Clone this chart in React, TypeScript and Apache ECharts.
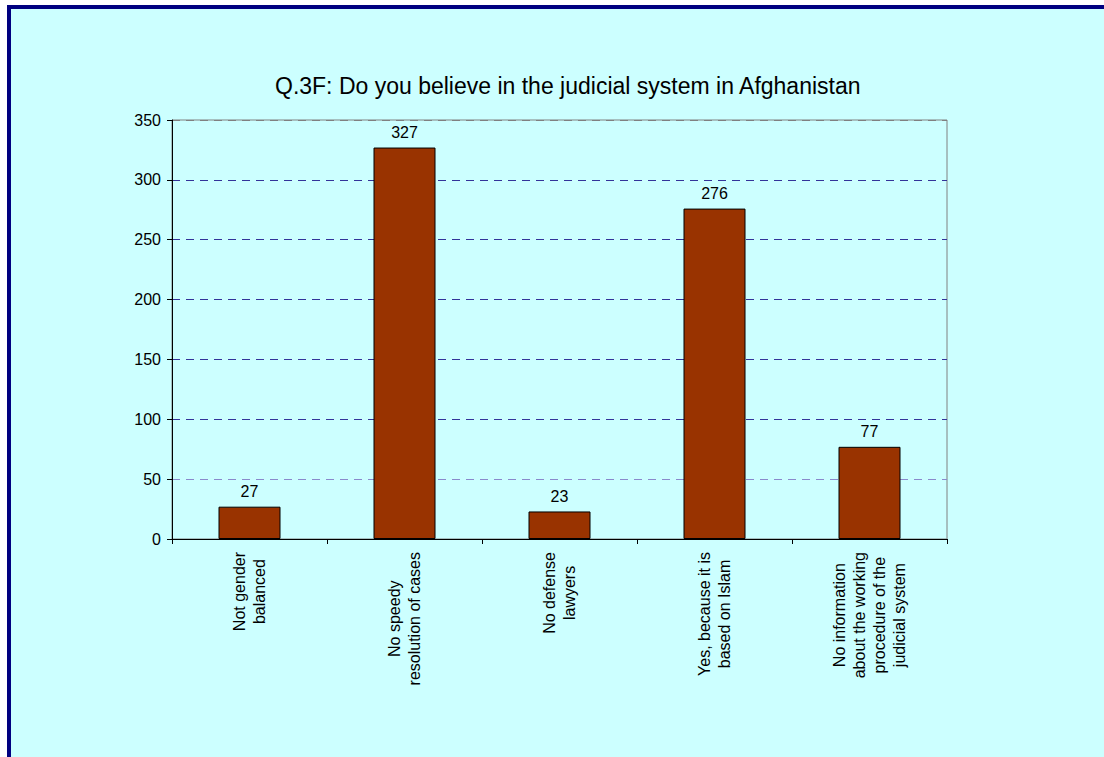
import React, { useEffect, useRef } from "react";
import * as echarts from "echarts";

const titleText = "Q.3F: Do you believe in the judicial system in Afghanistan";
const categories = [
  "Not gender\nbalanced",
  "No speedy\nresolution of cases",
  "No defense\nlawyers",
  "Yes, because it is\nbased on Islam",
  "No information\nabout the working\nprocedure of the\njudicial system",
];
const values = [27, 327, 23, 276, 77];
const yMin = 0;
const yMax = 350;
const yInterval = 50;

const FONT = "'Liberation Sans', Arial, sans-serif";

export default function App() {
  const ref = useRef<HTMLDivElement>(null);
  useEffect(() => {
    if (!ref.current) return;
    const chart = echarts.init(ref.current, undefined, { renderer: "svg" });
    chart.setOption({
      animation: false,
      backgroundColor: "#ffffff",
      graphic: [
        {
          type: "rect",
          z: -10,
          silent: true,
          shape: { x: 9, y: 7, width: 1300, height: 900 },
          style: { fill: "#CCFFFF", stroke: "#000080", lineWidth: 4 },
        },
      ],
      title: {
        text: titleText,
        left: 275,
        top: 74,
        padding: 0,
        textStyle: { fontFamily: FONT, fontSize: 23, fontWeight: "normal", color: "#000" },
      },
      grid: {
        left: 172,
        top: 120,
        right: 157,
        bottom: 218,
        show: true,
        borderColor: "#808080",
        borderWidth: 1,
        backgroundColor: "transparent",
      },
      xAxis: {
        type: "category",
        data: categories,
        boundaryGap: true,
        axisLine: { show: true, lineStyle: { color: "#000", width: 1 } },
        axisTick: { show: true, length: 5, inside: false, lineStyle: { color: "#000" } },
        axisLabel: {
          rotate: 90,
          margin: 13,
          interval: 0,
          formatter: (v: string) =>
            v
              .split("\n")
              .map((l) => "{c|" + l + "}")
              .join("\n"),
          rich: {
            c: {
              align: "center",
              fontFamily: FONT,
              fontSize: 16,
              lineHeight: 20,
              color: "#000",
            },
          },
        },
        splitLine: { show: false },
      },
      yAxis: {
        type: "value",
        min: yMin,
        max: yMax,
        interval: yInterval,
        axisLine: { show: true, lineStyle: { color: "#000", width: 1 } },
        axisTick: { show: true, length: 5, inside: false, lineStyle: { color: "#000" } },
        axisLabel: { fontFamily: FONT, fontSize: 16, color: "#000", margin: 11 },
        splitLine: {
          show: true,
          lineStyle: {
            color: [
              "#333399",
              "#8A8ACC",
              "#333399",
              "#333399",
              "#333399",
              "#333399",
              "#333399",
              "#808080",
            ],
            type: [8, 6],
            width: 1,
          },
        },
      },
      series: [
        {
          type: "bar",
          data: values,
          barWidth: "40%",
          itemStyle: { color: "#993300", borderColor: "#000", borderWidth: 1 },
          label: {
            show: true,
            position: "top",
            distance: 7,
            fontFamily: FONT,
            fontSize: 16,
            color: "#000",
          },
        },
      ],
    });
    return () => chart.dispose();
  }, []);
  return (
    <div
      ref={ref}
      style={{ position: "absolute", left: 0, top: 0, width: 1104, height: 757 }}
    />
  );
}
